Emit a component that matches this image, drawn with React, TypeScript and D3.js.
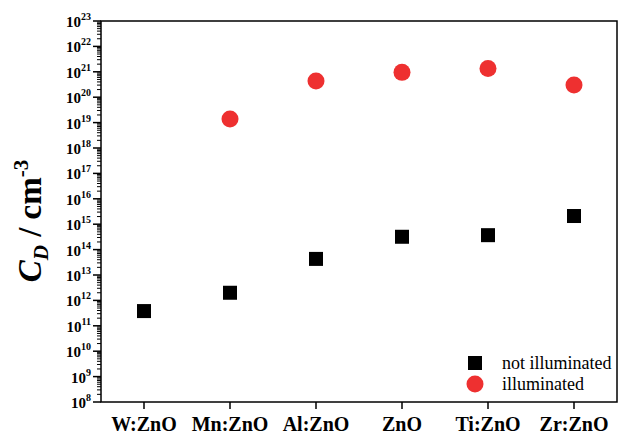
import React, { useRef, useEffect } from "react";
import * as d3 from "d3";

const categories = ["W:ZnO", "Mn:ZnO", "Al:ZnO", "ZnO", "Ti:ZnO", "Zr:ZnO"];
const notIlluminated = [3.8e11, 2.0e12, 4.3e13, 3.2e14, 3.7e14, 2.1e15];
const illuminatedCats = ["Mn:ZnO", "Al:ZnO", "ZnO", "Ti:ZnO", "Zr:ZnO"];
const illuminated = [1.4e19, 4.3e20, 9.5e20, 1.35e21, 3.0e20];
const yExponents = d3.range(8, 24);

const App = () => {
  const ref = useRef<SVGSVGElement | null>(null);

  useEffect(() => {
    if (!ref.current) return;
    const svg = d3.select(ref.current);
    svg.selectAll("*").remove();

    const margin = { top: 21, right: 1, bottom: 32, left: 101 };
    const W = 618, H = 434;
    const width = W - margin.left - margin.right;
    const height = H - margin.top - margin.bottom;
    const serif = "Liberation Serif, DejaVu Serif, serif";

    const x = d3.scalePoint<string>().domain(categories).range([0, width]).padding(0.5);
    const y = d3.scaleLog().domain([1e8, 1e23]).range([height, 0]);

    const g = svg
      .append("g")
      .attr("transform", `translate(${margin.left},${margin.top})`)
      .style("font-family", serif);

    // frame
    g.append("rect")
      .attr("width", width)
      .attr("height", height)
      .attr("fill", "none")
      .attr("stroke", "#000")
      .attr("stroke-width", 1.5);

    // minor y ticks
    const minor: number[] = [];
    yExponents.slice(0, -1).forEach((e) => {
      for (let m = 2; m <= 9; m++) minor.push(m * Math.pow(10, e));
    });
    g.selectAll("line.minor")
      .data(minor)
      .enter()
      .append("line")
      .attr("x1", 0)
      .attr("x2", -4)
      .attr("y1", (d) => y(d))
      .attr("y2", (d) => y(d))
      .attr("stroke", "#000")
      .attr("stroke-width", 1);

    // major y ticks + labels
    const major = g
      .selectAll("g.major")
      .data(yExponents)
      .enter()
      .append("g")
      .attr("transform", (e) => `translate(0,${y(Math.pow(10, e))})`);
    major.append("line").attr("x1", 0).attr("x2", -8).attr("stroke", "#000").attr("stroke-width", 1.5);
    const lbl = major
      .append("text")
      .attr("x", -10)
      .attr("y", 6)
      .attr("text-anchor", "end")
      .attr("font-weight", "bold")
      .attr("font-size", 15);
    lbl.append("tspan").text("10");
    lbl.append("tspan").attr("dy", -7).attr("font-size", 10).text((e) => e);

    // x ticks + labels
    const xt = g
      .selectAll("g.xt")
      .data(categories)
      .enter()
      .append("g")
      .attr("transform", (d) => `translate(${x(d)},${height})`);
    xt.append("line").attr("y1", 0).attr("y2", 7).attr("stroke", "#000").attr("stroke-width", 1.5);
    xt.append("text")
      .attr("y", 29)
      .attr("text-anchor", "middle")
      .attr("font-weight", "bold")
      .attr("font-size", 20)
      .text((d) => d);

    // not illuminated squares
    const s = 14;
    g.selectAll("rect.sq")
      .data(notIlluminated)
      .enter()
      .append("rect")
      .attr("x", (d, i) => (x(categories[i]) as number) - s / 2)
      .attr("y", (d) => y(d) - s / 2)
      .attr("width", s)
      .attr("height", s)
      .attr("fill", "#000");

    // illuminated circles
    g.selectAll("circle.ill")
      .data(illuminated)
      .enter()
      .append("circle")
      .attr("cx", (d, i) => x(illuminatedCats[i]) as number)
      .attr("cy", (d) => y(d))
      .attr("r", 8.5)
      .attr("fill", "#ee3030");

    // legend
    const lg = g.append("g").attr("transform", `translate(${475 - margin.left},${363 - margin.top})`);
    lg.append("rect").attr("x", -7).attr("y", -7).attr("width", 14).attr("height", 14).attr("fill", "#000");
    lg.append("circle").attr("cx", 0).attr("cy", 21).attr("r", 8.5).attr("fill", "#ee3030");
    lg.append("text").attr("x", 27).attr("y", 6).attr("font-size", 18).text("not illuminated");
    lg.append("text").attr("x", 27).attr("y", 27).attr("font-size", 18).text("illuminated");

    // y axis title
    const yt = svg
      .append("text")
      .attr("transform", `translate(41,221) rotate(-90)`)
      .attr("text-anchor", "middle")
      .style("font-family", serif)
      .attr("font-weight", "bold")
      .attr("font-size", 33);
    yt.append("tspan").attr("font-style", "italic").text("C");
    yt.append("tspan").attr("font-style", "italic").attr("font-size", 21).attr("dy", 7).text("D");
    yt.append("tspan").attr("dy", -7).text(" / cm");
    yt.append("tspan").attr("font-size", 21).attr("dy", -13).text("-3");
  }, []);

  return (
    <svg
      width={618}
      height={434}
      ref={ref}
      style={{ position: "absolute", left: 0, top: 0, background: "#fff" }}
    />
  );
};

export default App;
